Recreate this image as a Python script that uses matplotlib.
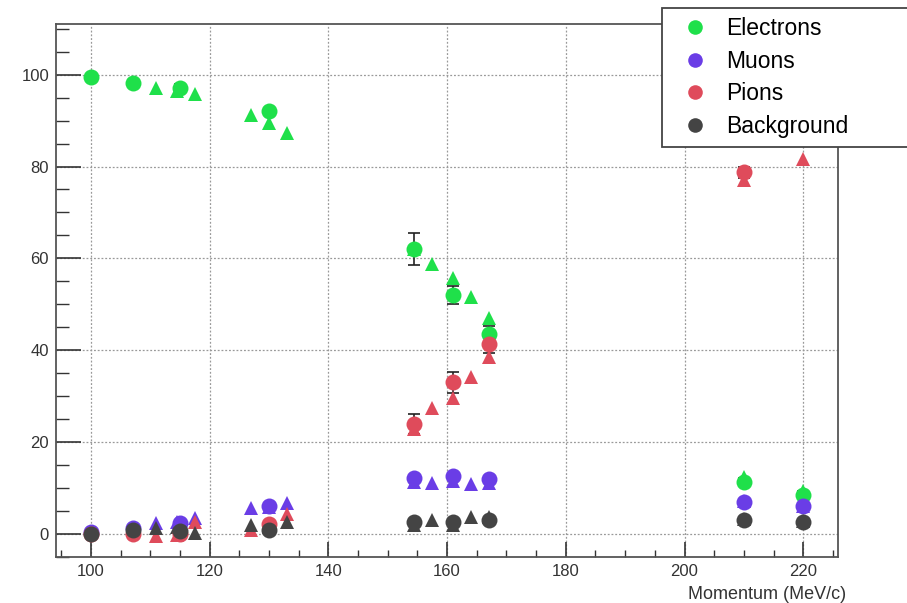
import matplotlib
matplotlib.use('Agg')
import matplotlib.pyplot as plt
from matplotlib.ticker import MultipleLocator
from matplotlib.lines import Line2D

plt.rcParams.update({
    'font.family': ['Liberation Sans', 'DejaVu Sans'],
    'font.size': 9,
})

# ── Measured points (circles) ──
P_MEAS = [100, 107, 115, 130, 154.5, 161, 167, 210, 220]
ELEC_MEAS = [99.5, 98.2, 97.2, 92.0, 62.0, 52.0, 43.5, 11.3, 8.5]
ELEC_ERR = [0.5, 0.6, 0.8, 0.8, 3.5, 2.0, 1.8, 0.8, 0.8]
MUON_MEAS = [0.4, 1.3, 2.3, 6.0, 12.2, 12.6, 12.0, 7.0, 6.0]
BKG_MEAS = [0.0, 0.8, 0.7, 0.8, 2.6, 2.6, 3.0, 3.1, 2.7]
# pions have no circle at 220
P_PION_MEAS = [100, 107, 115, 130, 154.5, 161, 167, 210]
PION_MEAS = [0.0, 0.0, 0.0, 2.2, 24.0, 33.0, 41.4, 78.7]
PION_ERR = [0.3, 0.3, 0.3, 0.6, 2.2, 2.2, 2.0, 1.2]

# ── Simulated points (triangles) ──
P_SIM = [111, 114.5, 117.5, 127, 130, 133, 154.5, 157.5, 161, 164, 167, 210, 220]
ELEC_SIM = [97.0, 96.5, 95.8, 91.3, 89.5, 87.3, 62.0, 58.8, 55.7, 51.6, 47.0, 12.4, 9.3]
MUON_SIM = [2.4, 2.6, 3.4, 5.6, 5.8, 6.8, 11.3, 11.1, 11.6, 10.9, 11.2, 7.2, 6.2]
PION_SIM = [-0.4, -0.3, 2.6, 0.9, 2.2, 4.3, 22.9, 27.4, 29.6, 34.2, 38.6, 77.0, 81.6]
BKG_SIM = [1.3, 1.5, 0.2, 2.0, 1.5, 2.6, 2.0, 3.0, 2.0, 3.7, 3.8, 3.2, 2.8]

COL_E = '#1fe04a'
COL_MU = '#6a3de6'
COL_PI = '#df4b5b'
COL_BG = '#444444'

fig = plt.figure(figsize=(9.07, 6.03), dpi=100)
ax = fig.add_axes([0.0617, 0.0763, 0.8625, 0.8837])

# triangles first, circles on top
for vals, col in [(ELEC_SIM, COL_E), (MUON_SIM, COL_MU),
                  (PION_SIM, COL_PI), (BKG_SIM, COL_BG)]:
    ax.plot(P_SIM, vals, ls='none', marker='^', ms=10.5, color=col, mew=0, zorder=3)

ax.errorbar(P_MEAS, ELEC_MEAS, yerr=ELEC_ERR, fmt='none', ecolor='#222222',
            elinewidth=1.2, capsize=4, capthick=1.2, zorder=2)
ax.errorbar(P_PION_MEAS, PION_MEAS, yerr=PION_ERR, fmt='none', ecolor='#222222',
            elinewidth=1.2, capsize=4, capthick=1.2, zorder=2)

ax.plot(P_MEAS, ELEC_MEAS, ls='none', marker='o', ms=11.5, color=COL_E, mew=0, zorder=4)
ax.plot(P_MEAS, MUON_MEAS, ls='none', marker='o', ms=11.5, color=COL_MU, mew=0, zorder=4)
ax.plot(P_PION_MEAS, PION_MEAS, ls='none', marker='o', ms=11.5, color=COL_PI, mew=0, zorder=4)
ax.plot(P_MEAS, BKG_MEAS, ls='none', marker='o', ms=11.5, color=COL_BG, mew=0, zorder=5)

ax.set_xlim(94.1, 225.9)
ax.set_ylim(-5, 111)
ax.xaxis.set_major_locator(MultipleLocator(20))
ax.xaxis.set_minor_locator(MultipleLocator(5))
ax.yaxis.set_major_locator(MultipleLocator(20))
ax.yaxis.set_minor_locator(MultipleLocator(5))
ax.tick_params(axis='x', which='major', direction='in', length=11, width=1.2,
               color='#333333', labelcolor='#333333', labelsize=12, pad=5)
ax.tick_params(axis='x', which='minor', direction='in', length=5, width=1.0, color='#333333')
ax.tick_params(axis='y', which='major', direction='in', length=18, width=1.2,
               color='#333333', labelcolor='#333333', labelsize=12, pad=5)
ax.tick_params(axis='y', which='minor', direction='in', length=9, width=1.0, color='#333333')
ax.grid(True, which='major', ls=(0, (1.5, 1.5)), color='#999999', lw=0.9, zorder=0)
for sp in ax.spines.values():
    sp.set_color('#555555')
    sp.set_linewidth(1.3)

ax.set_xlabel('Momentum (MeV/c)', fontsize=13, color='#333333', ha='right', x=1.01, labelpad=5)

handles = [Line2D([], [], ls='none', marker='o', ms=10.5, color=c, mew=0)
           for c in (COL_E, COL_MU, COL_PI, COL_BG)]
leg = fig.legend(handles, ['Electrons', 'Muons', 'Pions', 'Background'],
                 loc='upper left', mode='expand',
                 bbox_to_anchor=(662 / 907, 1 - 147 / 603, 260 / 907, 139 / 603),
                 fontsize=16.5, frameon=True, fancybox=False, edgecolor='#444444',
                 framealpha=1, borderpad=0.4, handletextpad=0.32, labelspacing=0.42,
                 handlelength=2.06, borderaxespad=0)
leg.get_frame().set_linewidth(1.3)

fig.savefig('out.png', dpi=100)
